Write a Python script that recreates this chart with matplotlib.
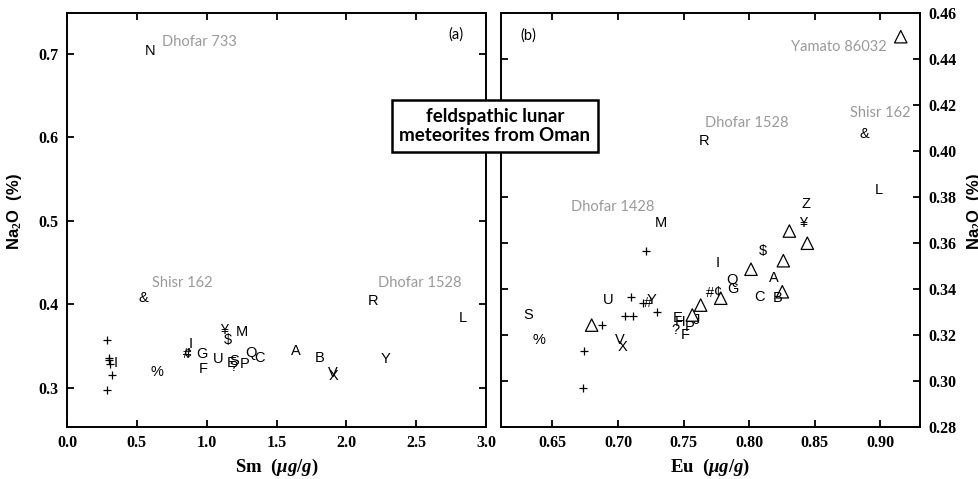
import matplotlib.pyplot as plt

# (a) Sm vs Na2O, letter symbols
left_sym = ['N', '&', 'R', 'L', '¥', 'M', '$', 'I', '#', '¢', 'G', 'U', 'Q', 'C',
            'A', 'B', 'Y', 'V', 'X', 'E', 'S', '?', 'P', 'F', '%', 'I']
left_sm = [0.595, 0.547, 2.19, 2.834, 1.125, 1.251, 1.151, 0.888, 0.857, 0.87, 0.965, 1.084, 1.318, 1.38,
           1.64, 1.807, 2.283, 1.90, 1.91, 1.18, 1.198, 1.19, 1.275, 0.976, 0.642, 0.35]
left_na = [0.703, 0.407, 0.404, 0.383, 0.369, 0.367, 0.357, 0.353, 0.341, 0.341, 0.341, 0.335, 0.342, 0.336,
           0.344, 0.336, 0.334, 0.318, 0.314, 0.330, 0.332, 0.325, 0.328, 0.322, 0.319, 0.330]
# (a) plus symbols
left_plus_sm = [0.284, 0.30, 0.30, 0.305, 0.32, 0.284]
left_plus_na = [0.357, 0.336, 0.333, 0.329, 0.315, 0.297]

# (b) Eu vs Na2O, letter symbols
right_sym = ['L', 'Z', '¥', 'M', '$', 'I', 'A', 'Q', 'G', '#', '¢', 'C', 'B', 'J', 'E', 'H', '?', 'P', 'F',
             'U', '#', 'Y', 'V', 'X', 'S', '%', 'R', '&']
right_eu = [0.8987, 0.8435, 0.8415, 0.7328, 0.8109, 0.7763, 0.8191, 0.7873, 0.7876, 0.7702, 0.7766, 0.8079,
            0.8216, 0.7601, 0.7453, 0.7473, 0.744, 0.7544, 0.7511, 0.6926, 0.7231, 0.7257, 0.7015, 0.7036,
            0.6311, 0.6397, 0.7659, 0.8878]
right_na = [0.383, 0.377, 0.3686, 0.3686, 0.3567, 0.3514, 0.3449, 0.3439, 0.3401, 0.3384, 0.3388, 0.3367,
            0.336, 0.3265, 0.3273, 0.3258, 0.3222, 0.3236, 0.320, 0.3352, 0.334, 0.3352, 0.3178, 0.3149,
            0.3287, 0.3178, 0.4043, 0.4074]
# (b) plus symbols
right_plus_eu = [0.7214, 0.7097, 0.7193, 0.730, 0.7053, 0.7112, 0.6876, 0.674, 0.6735]
right_plus_na = [0.3565, 0.3367, 0.3338, 0.3301, 0.3283, 0.3283, 0.3243, 0.3132, 0.2968]
# (b) triangles
tri_eu = [0.9158, 0.8308, 0.8445, 0.8262, 0.8015, 0.7784, 0.8254, 0.7631, 0.7567, 0.6799]
tri_na = [0.4497, 0.3652, 0.3599, 0.3523, 0.3486, 0.3360, 0.3388, 0.3330, 0.3287, 0.3243]

# sample names (gray)
left_names = ['Dhofar 733', 'Shisr 162', 'Dhofar 1528']
left_name_x = [0.678, 0.609, 2.228]
left_name_y = [0.7148, 0.4254, 0.4254]
right_names = ['Yamato 86032', 'Dhofar 1528', 'Shisr 162', 'Dhofar 1428']
right_name_x = [0.9053, 0.7664, 0.9236, 0.6641]
right_name_y = [0.4452, 0.4122, 0.4165, 0.3757]
right_name_ha = ['right', 'left', 'right', 'left']

plt.rcParams['mathtext.fontset'] = 'custom'
plt.rcParams['mathtext.rm'] = 'Liberation Serif:bold'
plt.rcParams['mathtext.it'] = 'Liberation Serif:italic:bold'

fig = plt.figure(figsize=(9.79, 4.79), dpi=100)
ax1 = fig.add_axes([67 / 979, 52 / 479, 419 / 979, 414 / 479])
ax2 = fig.add_axes([501 / 979, 52 / 479, 419 / 979, 414 / 479])

sym_font = dict(family='Liberation Sans', fontsize=10.5, ha='center', va='center')
name_font = dict(family='Lato', fontsize=10.5, color='#9a9a9a', va='center')
tick_font = dict(family='Liberation Serif', weight='bold', size=11.5)

for s, x, y in zip(left_sym, left_sm, left_na):
    ax1.text(x, y, s, **sym_font)
ax1.plot(left_plus_sm, left_plus_na, '+', color='black', ms=6, mew=0.9)
for s, x, y in zip(left_names, left_name_x, left_name_y):
    ax1.text(x, y, s, ha='left', **name_font)
ax1.text(2.787, 0.7228, '(a)', family='Lato', fontsize=10.5, ha='center', va='center')

for s, x, y in zip(right_sym, right_eu, right_na):
    ax2.text(x, y, s, **sym_font)
ax2.plot(right_plus_eu, right_plus_na, '+', color='black', ms=6, mew=0.9)
ax2.scatter(tri_eu, tri_na, marker='^', s=80, facecolors='none', edgecolors='black', linewidths=0.9)
for s, x, y, ha in zip(right_names, right_name_x, right_name_y, right_name_ha):
    ax2.text(x, y, s, ha=ha, **name_font)
ax2.text(0.6313, 0.4504, '(b)', family='Lato', fontsize=10.5, ha='center', va='center')

ax1.set_xlim(0, 3.0)
ax1.set_ylim(0.253, 0.749)
ax1.set_xticks([0.0, 0.5, 1.0, 1.5, 2.0, 2.5, 3.0])
ax1.set_yticks([0.3, 0.4, 0.5, 0.6, 0.7])
ax2.set_xlim(0.6107, 0.9305)
ax2.set_ylim(0.28, 0.46)
ax2.set_xticks([0.65, 0.70, 0.75, 0.80, 0.85, 0.90])
ax2.set_yticks([0.28, 0.30, 0.32, 0.34, 0.36, 0.38, 0.40, 0.42, 0.44, 0.46])

for ax in (ax1, ax2):
    for sp in ax.spines.values():
        sp.set_linewidth(1.4)
    ax.tick_params(direction='in', length=5, width=1.3, top=True, right=True, pad=6)

ax1.set_xticklabels(['0.0', '0.5', '1.0', '1.5', '2.0', '2.5', '3.0'], **tick_font)
ax1.set_yticklabels(['0.3', '0.4', '0.5', '0.6', '0.7'], **tick_font)
ax2.set_xticklabels(['0.65', '0.70', '0.75', '0.80', '0.85', '0.90'], **tick_font)
ax2.set_yticklabels(['0.28', '0.30', '0.32', '0.34', '0.36', '0.38', '0.40', '0.42', '0.44', '0.46'], **tick_font)
ax2.tick_params(labelleft=False, labelright=True)

ax1.set_xlabel(r'Sm  ($\mathit{\mu g/g}$)', family='Liberation Serif', weight='bold', fontsize=13.5, labelpad=4)
ax2.set_xlabel(r'Eu  ($\mathit{\mu g/g}$)', family='Liberation Serif', weight='bold', fontsize=13.5, labelpad=4)

fig.text(15 / 979, 1 - 212 / 479, r'Na$_2$O  (%)', family='Liberation Sans', weight='bold', fontsize=12,
         rotation=90, ha='center', va='center')
fig.text(965 / 979, 1 - 212 / 479, r'Na$_2$O  (%)', family='Liberation Sans', weight='bold', fontsize=12,
         rotation=90, ha='left', va='center')

fig.text(495 / 979, 1 - 126 / 479, 'feldspathic lunar\nmeteorites from Oman', family='Lato', weight='bold',
         fontsize=13.5, ha='center', va='center', linespacing=1.15,
         bbox=dict(boxstyle='square,pad=0.4', facecolor='white', edgecolor='black', linewidth=1.8))

plt.savefig('out.png', dpi=100)
